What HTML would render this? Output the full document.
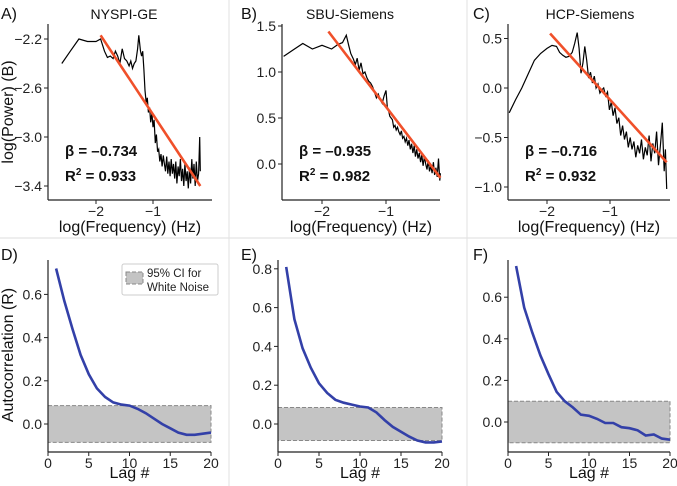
<!DOCTYPE html>
<html><head><meta charset="utf-8"><style>
body{margin:0;background:#fff}
svg{display:block;font-family:"Liberation Sans",Arial,sans-serif}
</style></head><body>
<svg id="fig" width="677" height="486" viewBox="0 0 677 486" xmlns="http://www.w3.org/2000/svg">
<line x1="0" y1="238" x2="677" y2="238" stroke="#ddd" stroke-width="1"/>
<line x1="229" y1="0" x2="229" y2="486" stroke="#e2e2e2" stroke-width="1"/>
<line x1="467" y1="0" x2="467" y2="486" stroke="#e2e2e2" stroke-width="1"/>
</svg>
<script>
// ---- data ----
const freqA=[-2.6,-2.45,-2.3,-2.15,-2.0,-1.92,-1.85,-1.8,-1.75,-1.7,-1.66,-1.62,-1.58,-1.54,-1.5,-1.46,-1.42,-1.39,-1.36,-1.33,-1.3,-1.27,-1.25,-1.22,-1.2,-1.18,-1.16,-1.14,-1.12,-1.1,-1.08,-1.06,-1.04,-1.02,-1.0,-0.98,-0.96,-0.94,-0.92,-0.9,-0.88,-0.86,-0.84,-0.82,-0.8,-0.78,-0.76,-0.74,-0.72,-0.7,-0.68,-0.66,-0.64,-0.62,-0.6,-0.58,-0.56,-0.54,-0.52,-0.5,-0.48,-0.46,-0.44,-0.42,-0.4,-0.38,-0.36,-0.34,-0.32,-0.3,-0.28,-0.26,-0.24,-0.22,-0.2,-0.18,-0.17];
const powA=[-2.40,-2.30,-2.20,-2.22,-2.22,-2.20,-2.30,-2.35,-2.34,-2.36,-2.30,-2.34,-2.40,-2.28,-2.36,-2.38,-2.42,-2.38,-2.44,-2.40,-2.38,-2.28,-2.17,-2.30,-2.34,-2.30,-2.45,-2.62,-2.72,-2.68,-2.80,-2.76,-2.88,-2.80,-2.92,-2.86,-3.05,-2.98,-3.12,-3.10,-3.20,-3.14,-3.24,-3.15,-3.22,-3.28,-3.16,-3.30,-3.20,-3.32,-3.18,-3.30,-3.22,-3.34,-3.20,-3.38,-3.24,-3.32,-3.18,-3.36,-3.26,-3.40,-3.22,-3.36,-3.28,-3.42,-3.25,-3.38,-3.18,-3.34,-3.22,-3.40,-3.20,-3.36,-3.30,-3.00,-3.28];
const fitA=[[-1.92,-2.17],[-0.17,-3.40]];
const freqB=[-2.6,-2.45,-2.3,-2.15,-2.0,-1.85,-1.75,-1.68,-1.62,-1.58,-1.55,-1.51,-1.48,-1.45,-1.42,-1.39,-1.36,-1.33,-1.3,-1.27,-1.24,-1.21,-1.18,-1.15,-1.12,-1.09,-1.06,-1.03,-1.0,-0.98,-0.96,-0.94,-0.92,-0.9,-0.88,-0.86,-0.84,-0.82,-0.8,-0.78,-0.76,-0.74,-0.72,-0.7,-0.68,-0.66,-0.64,-0.62,-0.6,-0.58,-0.56,-0.54,-0.52,-0.5,-0.48,-0.46,-0.44,-0.42,-0.4,-0.38,-0.36,-0.34,-0.32,-0.3,-0.28,-0.26,-0.24,-0.22,-0.2,-0.18,-0.16,-0.15];
const powB=[1.17,1.24,1.31,1.25,1.29,1.25,1.30,1.32,1.40,1.28,1.20,1.14,1.08,1.15,1.02,1.10,0.98,1.00,0.94,0.90,0.88,0.84,0.78,0.72,0.76,0.70,0.66,0.74,0.80,0.62,0.58,0.52,0.50,0.48,0.40,0.42,0.37,0.40,0.35,0.32,0.36,0.28,0.30,0.24,0.28,0.20,0.26,0.16,0.22,0.12,0.20,0.08,0.16,0.06,0.12,0.02,0.10,-0.02,0.08,0.00,-0.06,0.04,-0.08,-0.02,-0.10,0.02,-0.12,-0.04,-0.14,0.06,-0.18,-0.10];
const fitB=[[-1.9,1.44],[-0.15,-0.15]];
const freqC=[-2.6,-2.5,-2.4,-2.3,-2.2,-2.1,-2.0,-1.92,-1.85,-1.8,-1.75,-1.7,-1.65,-1.6,-1.56,-1.52,-1.49,-1.46,-1.43,-1.4,-1.37,-1.34,-1.31,-1.28,-1.25,-1.22,-1.19,-1.16,-1.13,-1.1,-1.07,-1.04,-1.01,-0.98,-0.95,-0.92,-0.89,-0.86,-0.83,-0.8,-0.77,-0.74,-0.71,-0.68,-0.65,-0.62,-0.59,-0.56,-0.53,-0.5,-0.47,-0.44,-0.41,-0.38,-0.35,-0.32,-0.29,-0.26,-0.23,-0.2,-0.17,-0.14,-0.12,-0.1];
const powC=[-0.25,-0.12,0.00,0.14,0.28,0.35,0.40,0.43,0.42,0.36,0.33,0.31,0.32,0.36,0.45,0.56,0.40,0.15,0.25,0.42,0.28,0.10,0.16,0.05,0.12,0.00,0.04,-0.05,-0.02,0.00,-0.08,-0.04,-0.22,-0.14,-0.28,-0.20,-0.36,-0.30,-0.48,-0.38,-0.52,-0.44,-0.60,-0.50,-0.62,-0.54,-0.70,-0.58,-0.66,-0.52,-0.72,-0.60,-0.68,-0.48,-0.74,-0.56,-0.66,-0.44,-0.78,-0.58,-0.35,-0.84,-0.62,-1.02];
const fitC=[[-1.95,0.55],[-0.1,-0.75]];
const lags=[1,2,3,4,5,6,7,8,9,10,11,12,13,14,15,16,17,18,19,20];
const acD=[0.72,0.57,0.44,0.32,0.23,0.165,0.125,0.10,0.09,0.085,0.07,0.05,0.025,0.0,-0.02,-0.04,-0.05,-0.05,-0.045,-0.04];
const acE=[0.81,0.54,0.39,0.29,0.21,0.16,0.125,0.11,0.10,0.09,0.085,0.06,0.02,-0.015,-0.04,-0.065,-0.085,-0.095,-0.095,-0.09];
const acF=[0.75,0.55,0.43,0.32,0.23,0.145,0.10,0.07,0.035,0.03,0.015,-0.005,-0.005,-0.025,-0.03,-0.04,-0.065,-0.06,-0.08,-0.085];
const ciD=0.085, ciE=0.085, ciF=0.10;
const ticksA=[-2.2,-2.6,-3.0,-3.4], ticksB=[1.5,1.0,0.5,0.0], ticksC=[0.5,0.0,-0.5,-1.0];
const ticksD=[0.6,0.4,0.2,0.0], ticksE=[0.8,0.6,0.4,0.2,0.0], ticksF=[0.6,0.4,0.2,0.0];
const freqTicks=[-2,-1], lagTicks=[0,5,10,15,20];

const svg=document.getElementById('fig');
const NS='http://www.w3.org/2000/svg';
function mk(tag,attrs,parent){const e=document.createElementNS(NS,tag);for(const k in attrs)e.setAttribute(k,attrs[k]);(parent||svg).appendChild(e);return e;}
function txt(s,attrs,parent){const e=mk('text',attrs,parent);e.textContent=s;return e;}
function fmt(v){return (v<0?'\u2212':'')+Math.abs(v).toFixed(1);}

function axes(g,xs,ys,x0,x1,yTop,yBot,yt,xt,xfmt){
  const ls=mk('line',{x1:x0,y1:yTop,x2:x0,y2:yBot,stroke:'#222','stroke-width':1.2},g);
  
  
  const bs=mk('line',{x1:x0,y1:yBot,x2:x1,y2:yBot,stroke:'#222','stroke-width':1.2},g);
  
  
  yt.forEach(v=>{const y=ys(v);
    mk('line',{x1:x0-4,y1:y,x2:x0,y2:y,stroke:'#222'},g);
    const t=txt(fmt(v),{x:x0-6,y:y+5,'font-size':14,'text-anchor':'end',fill:'#222'},g);
    
    });
  xt.forEach(v=>{const x=xs(v);
    mk('line',{x1:x,y1:yBot,x2:x,y2:yBot+4,stroke:'#222'},g);
    const t=txt(xfmt(v),{x:x,y:yBot+16,'font-size':14,'text-anchor':'middle',fill:'#222'},g);
    
    });
}
function path(pts){return pts.map((p,i)=>(i?'L':'M')+p[0].toFixed(1)+' '+p[1].toFixed(1)).join(' ');}

function spectrum(name,letter,title,lx,tx,xs,ys,x0,x1,yt,fr,pw,fit,beta,r2,showY){
  const g=mk('g',{});
  
  
  const l=txt(letter,{x:lx,y:19,'font-size':16,fill:'#111'},g);
  
  
  const t=txt(title,{x:tx,y:19,'font-size':14,'text-anchor':'middle',fill:'#111'},g);
  
  
  axes(g,xs,ys,x0,x1,24,200,yt,freqTicks,v=>'\u2212'+Math.abs(v));
  const ln=mk('path',{d:path(fr.map((f,i)=>[xs(f),ys(pw[i])])),fill:'none',stroke:'#000','stroke-width':1.2},g);
  
  
  const fl=mk('path',{d:path(fit.map(p=>[xs(p[0]),ys(p[1])])),fill:'none',stroke:'#f0502a','stroke-width':2.6},g);
  
  
  const b=txt('\u03b2 = \u2013'+beta,{x:x0+17,y:156,'font-size':15,'font-weight':'bold',fill:'#111'},g);
  
  
  const r=mk('text',{x:x0+17,y:181,'font-size':15,'font-weight':'bold',fill:'#111'},g);
  r.innerHTML='R<tspan dy="-6" font-size="10">2</tspan><tspan dy="6"> = '+r2+'</tspan>';
  
  
  const xl=txt('log(Frequency) (Hz)',{x:(x0+x1)/2,y:232,'font-size':16,'text-anchor':'middle',fill:'#111'},g);
  
  
  if(showY){const yl=txt('log(Power) (B)',{x:0,y:0,'font-size':16,'text-anchor':'middle',fill:'#111',transform:'translate(13,112) rotate(-90)'},g);
    
    }
}
function autocorr(name,letter,lx,xs,ys,x0,yt,ac,ci,showY,legend){
  const g=mk('g',{});
  
  
  const l=txt(letter,{x:lx,y:260,'font-size':16,fill:'#111'},g);
  
  
  const bx=mk('rect',{x:xs(0),y:ys(ci),width:xs(20)-xs(0),height:ys(-ci)-ys(ci),fill:'#c4c4c4',stroke:'#888','stroke-dasharray':'4 2','stroke-width':1},g);
  
  
  axes(g,xs,ys,x0,xs(20),260,452,yt,lagTicks,v=>String(v));
  const ln=mk('path',{d:path(lags.map((k,i)=>[xs(k),ys(ac[i])])),fill:'none',stroke:'#3340a8','stroke-width':2.6},g);
  
  
  const xl=txt('Lag #',{x:(x0+xs(20))/2,y:478,'font-size':16,'text-anchor':'middle',fill:'#111'},g);
  
  
  if(showY){const yl=txt('Autocorrelation (R)',{x:0,y:0,'font-size':16,'text-anchor':'middle',fill:'#111',transform:'translate(13,355) rotate(-90)'},g);
    
    }
  if(legend){const lg=mk('g',{},g);
    
    
    mk('rect',{x:122,y:264,width:96,height:31,rx:2,fill:'#fff',stroke:'#ccc'},lg);
    mk('rect',{x:126,y:272,width:17,height:12,fill:'#c4c4c4',stroke:'#888','stroke-dasharray':'4 2'},lg);
    txt('95% CI for',{x:147,y:277,'font-size':11.5,fill:'#222'},lg);
    txt('White Noise',{x:147,y:291,'font-size':11.5,fill:'#222'},lg);}
}
spectrum('panel-a-nyspi-ge','A)','NYSPI-GE',1,124,v=>96+(v+2)*57,v=>39+(-2.2-v)*122.5,48,212,ticksA,freqA,powA,fitA,'0.734','0.933',true);
spectrum('panel-b-sbu-siemens','B)','SBU-Siemens',241,350,v=>322+(v+2)*64,v=>164-v*92,282,440,ticksB,freqB,powB,fitB,'0.935','0.982',false);
spectrum('panel-c-hcp-siemens','C)','HCP-Siemens',473,590,v=>547+(v+2)*63,v=>88-v*99,508,670,ticksC,freqC,powC,fitC,'0.716','0.932',false);
autocorr('panel-d-autocorrelation','D)',1,v=>48+v*8.15,v=>424-v*216,48,ticksD,acD,ciD,true,true);
autocorr('panel-e-autocorrelation','E)',241,v=>278+v*8.2,v=>424-v*194,278,ticksE,acE,ciE,false,false);
autocorr('panel-f-autocorrelation','F)',473,v=>508+v*8.1,v=>422-v*208,508,ticksF,acF,ciF,false,false);
</script>
</body></html>
